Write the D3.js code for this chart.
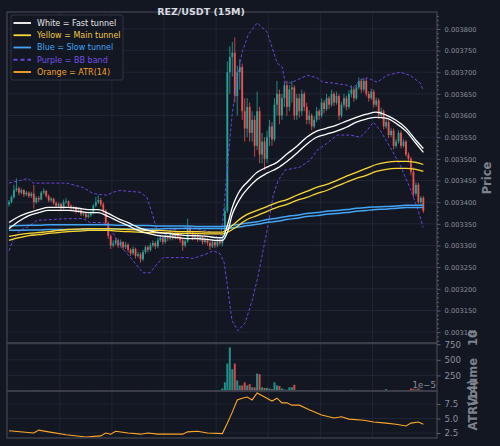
<!DOCTYPE html>
<html>
<head>
<meta charset="utf-8">
<style>
body { margin: 0; background: #131722; }
svg { display: block; font-family: "DejaVu Sans", sans-serif; }
</style>
</head>
<body>
<svg id="chart" width="500" height="446"></svg>
<script src="https://cdn.jsdelivr.net/npm/d3@7/dist/d3.min.js"></script>
<script>

// 15m candles, prices in 1e-6 USDT
var open = [3395,3400,3412,3428,3432,3422,3428,3418,3422,3414,
  3420,3400,3410,3406,3422,3426,3414,3404,3408,3398,
  3392,3396,3386,3400,3402,3392,3386,3388,3378,3382,
  3372,3374,3366,3370,3375,3392,3400,3405,3395,3380,
  3352,3322,3300,3305,3312,3300,3308,3296,3302,3290,
  3282,3292,3276,3280,3268,3285,3296,3290,3300,3306,
  3298,3312,3318,3308,3320,3316,3326,3318,3328,3320,
  3312,3300,3310,3338,3330,3318,3326,3314,3320,3308,
  3314,3306,3298,3308,3300,3312,3305,3320,3380,3700,
  3735,3745,3645,3700,3712,3610,3570,3620,3560,3590,
  3530,3610,3510,3540,3500,3550,3575,3545,3625,3650,
  3600,3640,3670,3620,3660,3665,3600,3640,3610,3650,
  3620,3590,3600,3575,3590,3610,3600,3630,3615,3640,
  3625,3650,3630,3645,3600,3625,3640,3620,3650,3660,
  3640,3665,3680,3660,3680,3650,3640,3655,3625,3635,
  3600,3610,3575,3585,3555,3565,3530,3540,3560,3530,
  3540,3510,3500,3470,3420,3440,3400,3410];
var close = [3400,3412,3428,3432,3422,3428,3418,3422,3414,3420,
  3400,3410,3406,3422,3426,3414,3404,3408,3398,3392,
  3396,3386,3400,3402,3392,3386,3388,3378,3382,3372,
  3374,3366,3370,3375,3392,3400,3405,3395,3380,3352,
  3322,3300,3305,3312,3300,3308,3296,3302,3290,3282,
  3292,3276,3280,3268,3285,3296,3290,3300,3306,3298,
  3312,3318,3308,3320,3316,3326,3318,3328,3320,3312,
  3300,3310,3338,3330,3318,3326,3314,3320,3308,3314,
  3306,3298,3308,3300,3312,3305,3320,3380,3700,3735,
  3745,3645,3700,3712,3610,3570,3620,3560,3590,3530,
  3610,3510,3540,3500,3550,3575,3545,3625,3650,3600,
  3640,3670,3620,3660,3665,3600,3640,3610,3650,3620,
  3590,3600,3575,3590,3610,3600,3630,3615,3640,3625,
  3650,3630,3645,3600,3625,3640,3620,3650,3660,3640,
  3665,3680,3660,3680,3650,3640,3655,3625,3635,3600,
  3610,3575,3585,3555,3565,3530,3540,3560,3530,3540,
  3510,3500,3470,3420,3440,3400,3410,3380];
var high = [3405,3416,3440,3455,3436,3432,3430,3426,3425,3424,
  3440,3414,3414,3426,3432,3428,3418,3412,3410,3402,
  3400,3398,3406,3410,3404,3395,3392,3390,3386,3384,
  3378,3376,3374,3380,3396,3412,3416,3410,3400,3384,
  3356,3326,3312,3318,3316,3314,3310,3308,3305,3294,
  3298,3295,3286,3284,3290,3300,3300,3306,3312,3310,
  3318,3324,3322,3326,3324,3332,3330,3334,3332,3324,
  3316,3314,3362,3342,3334,3330,3328,3326,3322,3320,
  3318,3310,3314,3312,3316,3318,3325,3390,3725,3760,
  3770,3780,3715,3730,3720,3640,3640,3630,3610,3600,
  3655,3620,3560,3550,3565,3590,3585,3640,3680,3660,
  3650,3678,3680,3670,3680,3670,3650,3650,3660,3655,
  3630,3612,3605,3598,3620,3615,3640,3636,3650,3645,
  3660,3655,3655,3650,3632,3650,3646,3658,3670,3665,
  3672,3688,3685,3686,3684,3656,3662,3660,3642,3640,
  3618,3614,3592,3590,3572,3570,3546,3566,3565,3546,
  3544,3515,3505,3480,3446,3445,3414,3414];
var low = [3390,3397,3408,3424,3416,3418,3412,3414,3410,3410,
  3385,3396,3400,3404,3418,3410,3400,3400,3394,3388,
  3388,3382,3384,3396,3388,3382,3383,3374,3375,3368,
  3368,3362,3363,3366,3372,3388,3396,3390,3375,3345,
  3315,3292,3296,3300,3294,3296,3290,3292,3284,3276,
  3278,3270,3272,3260,3264,3280,3284,3286,3296,3292,
  3294,3308,3302,3304,3310,3312,3312,3314,3314,3306,
  3288,3296,3306,3324,3312,3314,3308,3310,3302,3304,
  3300,3290,3294,3294,3296,3300,3298,3315,3375,3650,
  3690,3630,3600,3660,3590,3540,3550,3540,3540,3505,
  3520,3490,3490,3474,3490,3530,3530,3540,3600,3580,
  3590,3620,3600,3610,3630,3590,3590,3595,3600,3610,
  3580,3580,3566,3570,3585,3590,3595,3605,3610,3615,
  3620,3622,3625,3590,3595,3618,3612,3615,3642,3632,
  3636,3660,3652,3655,3644,3632,3636,3618,3620,3592,
  3595,3568,3570,3548,3550,3522,3525,3535,3524,3526,
  3505,3494,3462,3412,3415,3396,3392,3375];
var volume = [3,4,5,6,3,3,2,2,3,4,
  10,14,4,3,3,2,2,2,3,2,
  2,3,3,2,2,2,2,3,2,2,
  2,3,2,3,4,5,6,8,9,5,
  4,3,2,2,2,2,2,2,3,3,
  2,3,2,6,3,2,2,2,6,2,
  3,2,2,2,2,3,2,2,2,2,
  4,6,9,5,2,2,2,2,2,2,
  3,5,2,2,2,3,40,140,440,700,
  350,440,170,90,90,140,90,110,60,60,
  280,270,60,50,50,40,30,140,90,80,
  40,25,20,60,60,100,15,12,15,10,
  12,8,10,8,8,6,8,6,10,6,
  8,6,8,12,8,6,6,8,20,8,
  6,8,6,10,8,6,6,8,6,10,
  8,10,30,10,8,10,8,8,10,8,
  10,12,40,35,25,40,20,15];

// tunnel lines, read at these candle indices
var sampleIdx = [0,4,8,12,16,20,24,28,32,36,40,44,48,52,56,60,64,68,72,76,80,84,
  86,88,90,92,94,96,100,104,108,112,116,120,124,128,132,136,140,144,148,152,156,160,164,167];
var fast1 = [3353,3367,3376,3383,3388,3388,3388,3386,3383,3383,3374,3362,3353,3342,3335,3330,3328,3325,3323,3323,3321,3318,
  3318,3346,3388,3416,3434,3446,3469,3481,3492,3511,3529,3550,3564,3571,3578,3587,3596,3603,3608,3601,3589,3571,3543,3524];
var fast2 = [3339,3356,3369,3376,3381,3381,3381,3379,3376,3376,3367,3356,3346,3335,3328,3323,3321,3318,3316,3316,3314,3312,
  3312,3330,3372,3397,3416,3430,3453,3467,3478,3494,3513,3534,3550,3557,3564,3573,3585,3592,3596,3594,3582,3564,3536,3515];
var main1 = [3321,3325,3328,3330,3332,3335,3337,3338,3339,3339,3339,3338,3337,3336,3335,3335,3334,3332,3332,3332,3331,3331,
  3331,3337,3346,3356,3365,3372,3381,3390,3399,3406,3416,3425,3434,3441,3450,3460,3469,3478,3487,3492,3494,3494,3492,3487];
var main2 = [3312,3318,3323,3325,3328,3330,3332,3333,3335,3335,3335,3333,3332,3331,3330,3330,3329,3328,3328,3328,3327,3327,
  3327,3330,3337,3344,3353,3360,3369,3379,3388,3395,3404,3411,3420,3427,3437,3446,3455,3462,3471,3476,3478,3478,3476,3471];
var slow1 = [3345,3346,3347,3347,3348,3348,3348,3348,3348,3348,3348,3347,3347,3346,3346,3345,3345,3345,3345,3344,3344,3344,
  3344,3345,3347,3348,3350,3352,3355,3360,3363,3367,3370,3374,3376,3379,3381,3383,3386,3388,3389,3390,3391,3393,3393,3393];
var slow2 = [3335,3335,3336,3336,3337,3337,3337,3337,3338,3338,3338,3338,3338,3338,3338,3338,3339,3339,3339,3339,3339,3339,
  3339,3339,3341,3342,3344,3346,3349,3353,3356,3360,3363,3367,3369,3372,3374,3376,3379,3381,3383,3384,3386,3388,3388,3388];

// bollinger band
var bbUpIdx = [0,4.4,7.7,9.7,14.5,23.4,29.8,33.9,39.5,41.9,44.8,52.8,55.6,58,60,62,64.9,71.8,78.2,82.3,
  85.1,86.3,87.9,89.9,91.9,94,96.4,100,104,106,108.1,110.1,111.3,113.3,116.1,120.2,124.2,126.6,130.6,136.3,
  138.7,141.5,144.4,148.4,152.4,157.7,161.7,165.7,166.9];
var bbUp = [3444,3450,3455,3444,3444,3444,3434,3420,3416,3423,3427,3423,3411,3369,3328,3316,3335,3342,3335,3330,
  3312,3365,3474,3601,3682,3747,3786,3814,3793,3758,3721,3712,3677,3675,3682,3693,3687,3677,3675,3670,
  3663,3682,3687,3677,3693,3700,3693,3675,3659];
var bbLoIdx = [0,1.6,4.4,7.3,11.3,23.4,29.8,32.7,37.9,40.7,44.8,50,54,56.9,59.7,62.1,71.8,74.2,79.8,82.3,
  85.1,86.7,88.3,89.9,92.3,95.2,98,100.4,102.4,104.4,106.5,108.5,111.3,117.3,121.4,124.2,128.2,132.3,137.5,141.5,
  144.4,146.8,149.6,153.6,157.7,161.7,164.9,166.9];
var bbLo = [3288,3312,3335,3342,3358,3362,3362,3353,3353,3342,3300,3265,3237,3237,3258,3272,3272,3270,3281,3288,
  3281,3261,3196,3126,3103,3122,3173,3230,3288,3346,3416,3450,3474,3481,3497,3520,3536,3555,3555,3550,
  3566,3585,3566,3527,3485,3432,3381,3342];

// ATR(14), in 1e-5
var atrIdx = [0,10,12,16,23,31,37,39,41,43,48,53,56,60,70,72,76,80,86,88,90,92,94,96,98,
  100,103,106,108,110,112,114,117,121,126,131,134,137,143,147,152,156,160,162,165,167];
var atr = [2.9,2.5,3.0,2.7,2.2,1.8,2.0,2.5,2.3,2.8,2.5,2.3,2.5,2.3,2.3,2.7,2.8,2.5,2.4,4.2,6.1,8.2,8.5,8.7,8.2,
  9.4,8.7,8.0,8.5,7.7,7.7,7.3,7.3,6.5,5.6,5.1,5.3,4.9,4.7,4.4,4.2,4.0,3.7,4.2,4.4,4.0];

var priceTicks = d3.range(3100, 3801, 50);
var volTicks = [250, 500, 750];
var atrTicks = [2.5, 5.0, 7.5];
var timeGridIdx = [20.5, 41.5, 62.5, 83.5, 104.5, 125.5, 146.5];

var legendItems = [
  {label: "White = Fast tunnel", color: "#ffffff", text: "#e6e6e6", dash: null},
  {label: "Yellow = Main tunnel", color: "#fdd835", text: "#f2c94c", dash: null},
  {label: "Blue = Slow tunnel", color: "#42a5f5", text: "#42a5f5", dash: null},
  {label: "Purple = BB band", color: "#6a45dc", text: "#7350e6", dash: "4,3"},
  {label: "Orange = ATR(14)", color: "#ffa726", text: "#f5a030", dash: null}
];

var svg = d3.select("#chart");
var bg = "#131722", spine = "#3f434e", grid = "#232838", tickCol = "#8b8f9a";
var up = "#26a69a", down = "#ef5350";

svg.append("rect").attr("width", 500).attr("height", 446).attr("fill", bg);

var left = 7, right = 437, pTop = 12, pBot = 343, vBot = 391, aBot = 438;

var x = d3.scaleLinear().domain([-0.8, close.length + 4.5]).range([left, right]);
var yP = d3.scaleLinear().domain([3075, 3839]).range([pBot, pTop]);
var yV = d3.scaleLinear().domain([0, 770]).range([vBot, pBot]);
var yA = d3.scaleLinear().domain([1.64, 9.74]).range([aBot, vBot]);

var defs = svg.append("defs");
defs.append("clipPath").attr("id", "clipP").append("rect")
  .attr("x", left).attr("y", pTop).attr("width", right - left).attr("height", pBot - pTop);

// grid
var g = svg.append("g");
g.selectAll(".hp").data(priceTicks).enter().append("line")
  .attr("x1", left).attr("x2", right).attr("y1", d => yP(d)).attr("y2", d => yP(d))
  .attr("stroke", grid).attr("stroke-width", 0.8);
g.selectAll(".hv").data(volTicks).enter().append("line")
  .attr("x1", left).attr("x2", right).attr("y1", d => yV(d)).attr("y2", d => yV(d))
  .attr("stroke", grid).attr("stroke-width", 0.8);
g.selectAll(".ha").data(atrTicks).enter().append("line")
  .attr("x1", left).attr("x2", right).attr("y1", d => yA(d)).attr("y2", d => yA(d))
  .attr("stroke", grid).attr("stroke-width", 0.8);
g.selectAll(".vt").data(timeGridIdx).enter().append("line")
  .attr("x1", d => x(d)).attr("x2", d => x(d)).attr("y1", pTop).attr("y2", aBot)
  .attr("stroke", grid).attr("stroke-width", 0.8);

// candles
var main = svg.append("g").attr("clip-path", "url(#clipP)");
var idx = d3.range(close.length);
main.selectAll(".wick").data(idx).enter().append("line")
  .attr("x1", i => x(i)).attr("x2", i => x(i))
  .attr("y1", i => yP(high[i])).attr("y2", i => yP(low[i]))
  .attr("stroke", i => close[i] >= open[i] ? up : down).attr("stroke-width", 0.8);
main.selectAll(".body").data(idx).enter().append("rect")
  .attr("x", i => x(i) - 0.9).attr("width", 1.8)
  .attr("y", i => yP(Math.max(open[i], close[i])))
  .attr("height", i => Math.max(0.8, Math.abs(yP(open[i]) - yP(close[i]))))
  .attr("fill", i => close[i] >= open[i] ? up : down);

function pts(ix, vals) { return ix.map((d, k) => [d, vals[k]]); }
var smooth = d3.line().x(d => x(d[0])).y(d => yP(d[1])).curve(d3.curveMonotoneX);
var straight = d3.line().x(d => x(d[0])).y(d => yP(d[1]));

// BB band
[[bbUpIdx, bbUp], [bbLoIdx, bbLo]].forEach(function(s) {
  main.append("path").attr("d", straight(pts(s[0], s[1])))
    .attr("fill", "none").attr("stroke", "#6a45dc").attr("stroke-width", 1)
    .attr("stroke-dasharray", "3,2");
});

// tunnels
[[slow1, "#42a5f5", 1.5], [slow2, "#42a5f5", 1.5],
 [main1, "#fdd835", 1.3], [main2, "#fdd835", 1.3],
 [fast1, "#ffffff", 1.3], [fast2, "#ffffff", 1.3]].forEach(function(s) {
  main.append("path").attr("d", smooth(pts(sampleIdx, s[0])))
    .attr("fill", "none").attr("stroke", s[1]).attr("stroke-width", s[2]);
});

// volume
svg.append("g").selectAll("rect").data(idx).enter().append("rect")
  .attr("x", i => x(i) - 1).attr("width", 2)
  .attr("y", i => yV(volume[i])).attr("height", i => vBot - yV(volume[i]))
  .attr("fill", i => close[i] >= open[i] ? up : down).attr("opacity", 0.85);

// ATR
var atrLine = d3.line().x(d => x(d[0])).y(d => yA(d[1]));
svg.append("path").attr("d", atrLine(pts(atrIdx, atr)))
  .attr("fill", "none").attr("stroke", "#ffa726").attr("stroke-width", 1.1);

// spines
[[pTop, pBot], [pBot, vBot], [vBot, aBot]].forEach(function(p) {
  svg.append("rect").attr("x", left).attr("y", p[0]).attr("width", right - left).attr("height", p[1] - p[0])
    .attr("fill", "none").attr("stroke", spine).attr("stroke-width", 1.3);
});

// axes
function styleAxis(sel, size) {
  sel.select(".domain").remove();
  sel.selectAll(".tick line").attr("stroke", "#5d616c");
  sel.selectAll(".tick text").attr("fill", tickCol).attr("font-size", size)
    .attr("font-family", "DejaVu Sans");
}
var minor = d3.range(3080, 3840, 10).filter(v => v % 50 !== 0);
svg.append("g").attr("transform", "translate(" + right + ",0)")
  .call(d3.axisRight(yP).tickValues(minor).tickSize(2).tickFormat(""))
  .call(styleAxis, 6.7);
svg.append("g").attr("transform", "translate(" + right + ",0)")
  .call(d3.axisRight(yP).tickValues(priceTicks).tickSize(3.5).tickPadding(4)
    .tickFormat(d => (d / 1e6).toFixed(6)))
  .call(styleAxis, 6.7);
svg.append("g").attr("transform", "translate(" + right + ",0)")
  .call(d3.axisRight(yV).tickValues(volTicks).tickSize(3.5).tickPadding(4))
  .call(styleAxis, 8.6);
svg.append("g").attr("transform", "translate(" + right + ",0)")
  .call(d3.axisRight(yA).tickValues(atrTicks).tickSize(3.5).tickPadding(4).tickFormat(d3.format(".1f")))
  .call(styleAxis, 8.6);

svg.append("text").attr("x", right - 1).attr("y", 388).attr("text-anchor", "end")
  .attr("font-size", 8.6).attr("fill", tickCol).text("1e\u22125");

// axis labels
function ylabel(txt, xx, yy) {
  svg.append("text").attr("transform", "translate(" + xx + "," + yy + ") rotate(-90)")
    .attr("text-anchor", "middle").attr("font-size", 11.5).attr("font-weight", "bold")
    .attr("fill", "#7e828d").text(txt);
}
ylabel("Price", 491, 178);
ylabel("Volume", 477, 382);
ylabel("ATR(14)", 477, 405);
ylabel("10", 477, 338);

// title
svg.append("text").attr("x", 201).attr("y", 15).attr("text-anchor", "middle")
  .attr("font-size", 9.5).attr("font-weight", "bold").attr("fill", "#d8dae0")
  .text("REZ/USDT (15M)");

// legend
var lg = svg.append("g");
lg.append("rect").attr("x", 11).attr("y", 15).attr("width", 112).attr("height", 65).attr("rx", 2)
  .attr("fill", bg).attr("fill-opacity", 0.9).attr("stroke", "#3a3e4a").attr("stroke-width", 0.8);
legendItems.forEach(function(d, k) {
  var yy = 23 + k * 12.25;
  lg.append("line").attr("x1", 13.5).attr("x2", 31).attr("y1", yy).attr("y2", yy)
    .attr("stroke", d.color).attr("stroke-width", 1.8).attr("stroke-dasharray", d.dash);
  lg.append("text").attr("x", 37).attr("y", yy + 2.9).attr("font-size", 8)
    .attr("fill", d.text).text(d.label);
});

</script>
</body>
</html>
